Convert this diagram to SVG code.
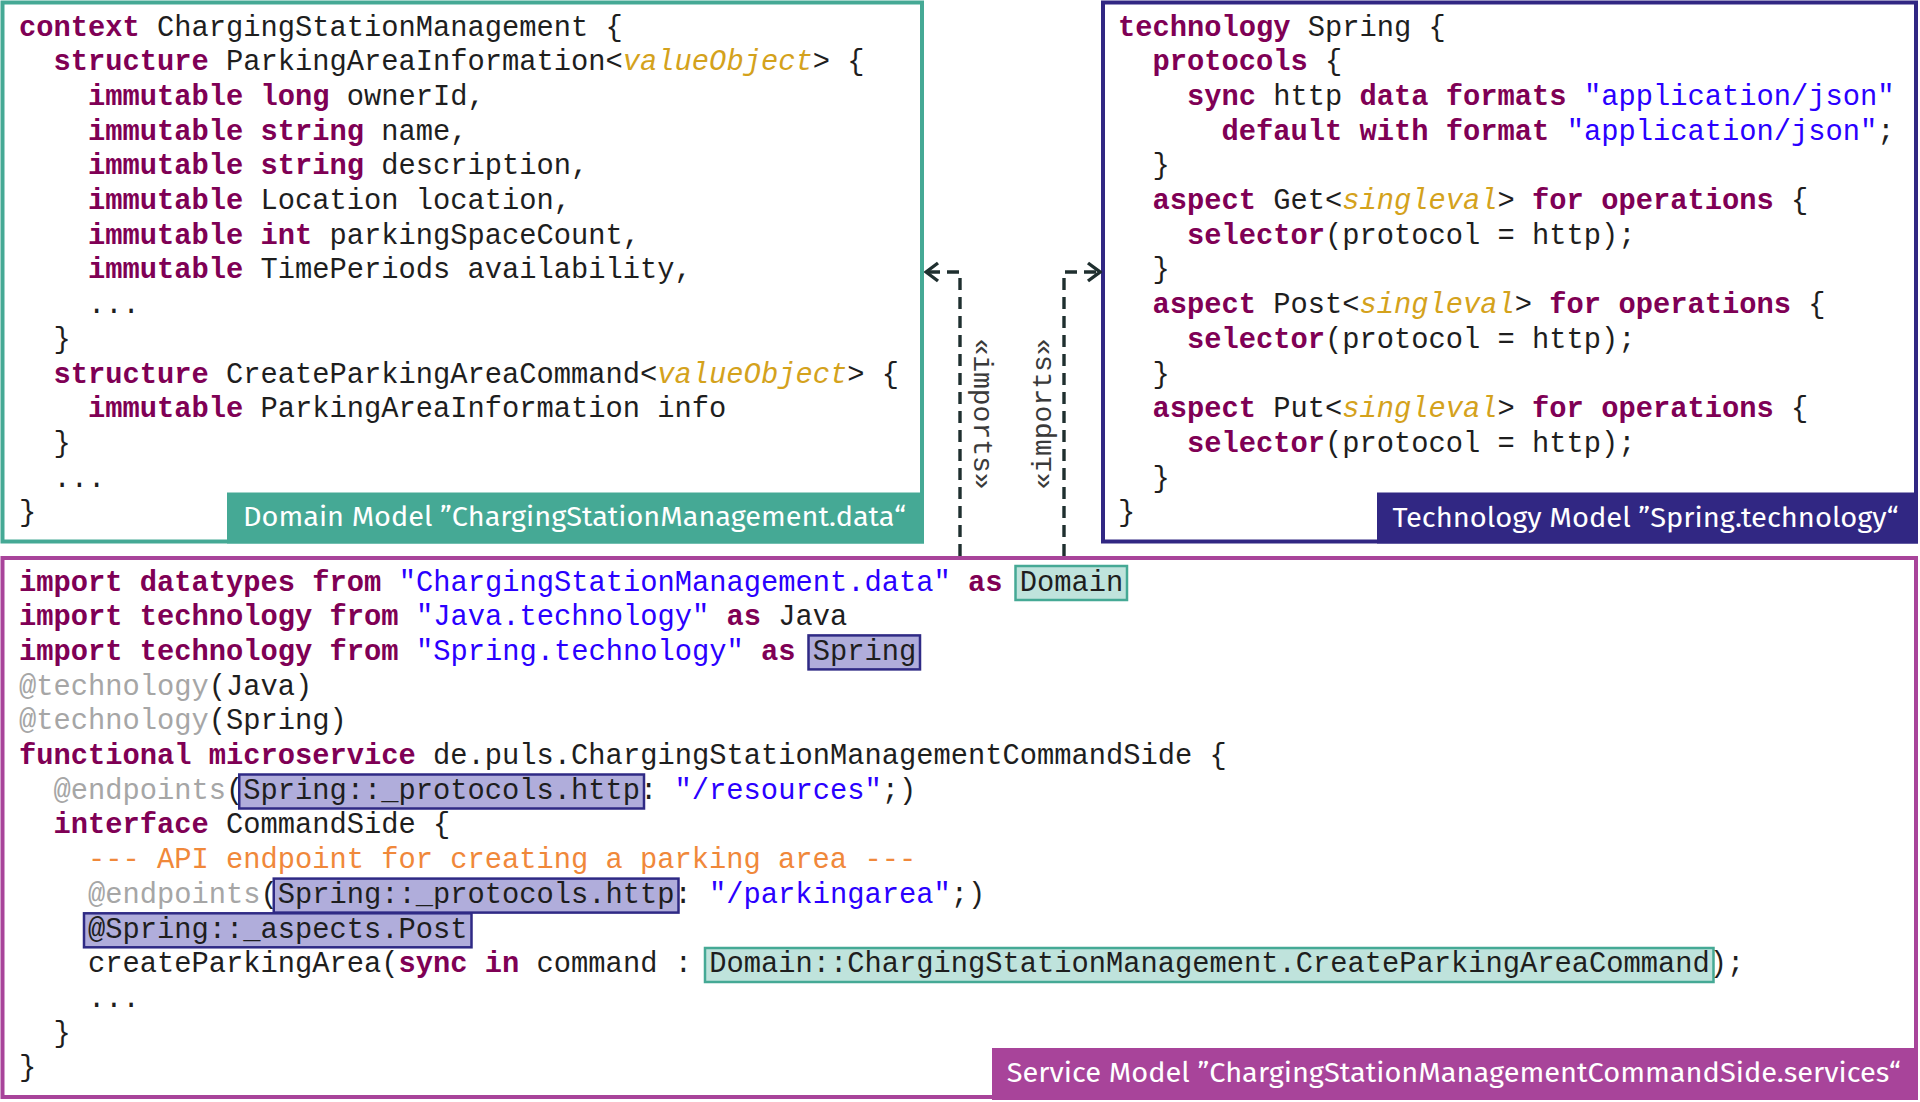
<svg xmlns="http://www.w3.org/2000/svg" width="1920" height="1102" viewBox="0 0 1920 1102">
<style>
text{white-space:pre}
.code{font-family:"Liberation Mono","Courier New",monospace;font-size:28.75px;fill:#1e1e1e}
.k{font-weight:bold;fill:#7f0055}
.s{fill:#2a00ff}
.i{font-style:italic;fill:#d4a21c}
.a{fill:#a6a6a6}
.c{fill:#f0883a}
.lbl{font-family:"Fira Sans","Open Sans","Noto Sans",sans-serif;font-size:28px;fill:#ffffff}
.stereo{font-family:"Liberation Mono","Courier New",monospace;font-size:28px;fill:#3a3a3a}
.hlD{fill:#bfe3dc;stroke:#45a995;stroke-width:2.5}
.hlS{fill:#b0addb;stroke:#2f2a85;stroke-width:2.5}
.dep{fill:none;stroke:#1f2f2f;stroke-width:3.4;stroke-dasharray:12 7}
</style>
<defs>
<marker id="open" markerUnits="userSpaceOnUse" viewBox="0 0 16 22" refX="14" refY="11" markerWidth="16" markerHeight="22" orient="auto">
<path d="M2,2 L14,11 L2,20" fill="none" stroke="#1f2f2f" stroke-width="3.4" stroke-dasharray="none"/>
</marker>
</defs>

<g id="domain-model">
<rect x="2.5" y="2.5" width="919.5" height="539" fill="#ffffff" stroke="#45a995" stroke-width="4"/>
<rect x="227" y="492.5" width="697" height="51" fill="#45a995"/>
<text class="lbl" x="243" y="526" textLength="663" lengthAdjust="spacingAndGlyphs">Domain Model ”ChargingStationManagement.data“</text>
<text class="code" x="19" y="35.5"><tspan class="k">context</tspan> ChargingStationManagement {</text>
<text class="code" x="53.5" y="70.2"><tspan class="k">structure</tspan> ParkingAreaInformation&lt;<tspan class="i">valueObject</tspan>&gt; {</text>
<text class="code" x="88" y="104.9"><tspan class="k">immutable</tspan> <tspan class="k">long</tspan> ownerId,</text>
<text class="code" x="88" y="139.6"><tspan class="k">immutable</tspan> <tspan class="k">string</tspan> name,</text>
<text class="code" x="88" y="174.3"><tspan class="k">immutable</tspan> <tspan class="k">string</tspan> description,</text>
<text class="code" x="88" y="209"><tspan class="k">immutable</tspan> Location location,</text>
<text class="code" x="88" y="243.7"><tspan class="k">immutable</tspan> <tspan class="k">int</tspan> parkingSpaceCount,</text>
<text class="code" x="88" y="278.4"><tspan class="k">immutable</tspan> TimePeriods availability,</text>
<text class="code" x="88" y="313.1">...</text>
<text class="code" x="53.5" y="347.8">}</text>
<text class="code" x="53.5" y="382.5"><tspan class="k">structure</tspan> CreateParkingAreaCommand&lt;<tspan class="i">valueObject</tspan>&gt; {</text>
<text class="code" x="88" y="417.2"><tspan class="k">immutable</tspan> ParkingAreaInformation info</text>
<text class="code" x="53.5" y="451.9">}</text>
<text class="code" x="53.5" y="486.6">...</text>
<text class="code" x="19" y="521.3">}</text>
</g>

<g id="technology-model">
<rect x="1103" y="2.5" width="813" height="539" fill="#ffffff" stroke="#312783" stroke-width="4"/>
<rect x="1377" y="492.5" width="541" height="51" fill="#312783"/>
<text class="lbl" x="1392.5" y="526.5" textLength="506" lengthAdjust="spacingAndGlyphs">Technology Model ”Spring.technology“</text>
<text class="code" x="1118" y="35.5"><tspan class="k">technology</tspan> Spring {</text>
<text class="code" x="1152.5" y="70.2"><tspan class="k">protocols</tspan> {</text>
<text class="code" x="1187" y="104.9"><tspan class="k">sync</tspan> http <tspan class="k">data</tspan> <tspan class="k">formats</tspan> <tspan class="s">"application/json"</tspan></text>
<text class="code" x="1221.5" y="139.6"><tspan class="k">default</tspan> <tspan class="k">with</tspan> <tspan class="k">format</tspan> <tspan class="s">"application/json"</tspan>;</text>
<text class="code" x="1152.5" y="174.3">}</text>
<text class="code" x="1152.5" y="209"><tspan class="k">aspect</tspan> Get&lt;<tspan class="i">singleval</tspan>&gt; <tspan class="k">for</tspan> <tspan class="k">operations</tspan> {</text>
<text class="code" x="1187" y="243.7"><tspan class="k">selector</tspan>(protocol = http);</text>
<text class="code" x="1152.5" y="278.4">}</text>
<text class="code" x="1152.5" y="313.1"><tspan class="k">aspect</tspan> Post&lt;<tspan class="i">singleval</tspan>&gt; <tspan class="k">for</tspan> <tspan class="k">operations</tspan> {</text>
<text class="code" x="1187" y="347.8"><tspan class="k">selector</tspan>(protocol = http);</text>
<text class="code" x="1152.5" y="382.5">}</text>
<text class="code" x="1152.5" y="417.2"><tspan class="k">aspect</tspan> Put&lt;<tspan class="i">singleval</tspan>&gt; <tspan class="k">for</tspan> <tspan class="k">operations</tspan> {</text>
<text class="code" x="1187" y="451.9"><tspan class="k">selector</tspan>(protocol = http);</text>
<text class="code" x="1152.5" y="486.6">}</text>
<text class="code" x="1118" y="521.3">}</text>
</g>

<g id="service-model">
<rect x="2.5" y="558" width="1913.5" height="539" fill="#ffffff" stroke="#a8449a" stroke-width="4"/>
<rect x="992" y="1048" width="926" height="52" fill="#a8449a"/>
<text class="lbl" x="1006.7" y="1081.5" textLength="894" lengthAdjust="spacingAndGlyphs">Service Model ”ChargingStationManagementCommandSide.services“</text>
<rect class="hlD" x="1015.5" y="566" width="111.5" height="34"/>
<rect class="hlS" x="808.5" y="635.4" width="111.5" height="34"/>
<rect class="hlS" x="239.25" y="774.5" width="404.75" height="34"/>
<rect class="hlS" x="273.75" y="878.6" width="404.75" height="34"/>
<rect class="hlS" x="84" y="913.3" width="387.5" height="34"/>
<rect class="hlD" x="705" y="948" width="1008.5" height="34"/>
<text class="code" x="19" y="590.5"><tspan class="k">import</tspan> <tspan class="k">datatypes</tspan> <tspan class="k">from</tspan> <tspan class="s">"ChargingStationManagement.data"</tspan> <tspan class="k">as</tspan> Domain</text>
<text class="code" x="19" y="625.2"><tspan class="k">import</tspan> <tspan class="k">technology</tspan> <tspan class="k">from</tspan> <tspan class="s">"Java.technology"</tspan> <tspan class="k">as</tspan> Java</text>
<text class="code" x="19" y="659.9"><tspan class="k">import</tspan> <tspan class="k">technology</tspan> <tspan class="k">from</tspan> <tspan class="s">"Spring.technology"</tspan> <tspan class="k">as</tspan> Spring</text>
<text class="code" x="19" y="694.6"><tspan class="a">@technology</tspan>(Java)</text>
<text class="code" x="19" y="729.3"><tspan class="a">@technology</tspan>(Spring)</text>
<text class="code" x="19" y="764"><tspan class="k">functional</tspan> <tspan class="k">microservice</tspan> de.puls.ChargingStationManagementCommandSide {</text>
<text class="code" x="53.5" y="798.7"><tspan class="a">@endpoints</tspan>(Spring::_protocols.http: <tspan class="s">"/resources"</tspan>;)</text>
<text class="code" x="53.5" y="833.4"><tspan class="k">interface</tspan> CommandSide {</text>
<text class="code" x="88" y="868.1"><tspan class="c">--- API endpoint for creating a parking area ---</tspan></text>
<text class="code" x="88" y="902.8"><tspan class="a">@endpoints</tspan>(Spring::_protocols.http: <tspan class="s">"/parkingarea"</tspan>;)</text>
<text class="code" x="88" y="937.5">@Spring::_aspects.Post</text>
<text class="code" x="88" y="972.2">createParkingArea(<tspan class="k">sync</tspan> <tspan class="k">in</tspan> command : Domain::ChargingStationManagement.CreateParkingAreaCommand);</text>
<text class="code" x="88" y="1006.9">...</text>
<text class="code" x="53.5" y="1041.6">}</text>
<text class="code" x="19" y="1076.3">}</text>
</g>

<g id="connectors">
<path class="dep" d="M960,556 V272 H926" marker-end="url(#open)"/>
<path class="dep" d="M1064,556 V272 H1100" marker-end="url(#open)"/>
<text class="stereo" transform="translate(982,414) rotate(90)" x="0" y="8.5" text-anchor="middle">«imports»</text>
<text class="stereo" transform="translate(1042,414) rotate(-90)" x="0" y="8.5" text-anchor="middle">«imports»</text>
</g>
</svg>
